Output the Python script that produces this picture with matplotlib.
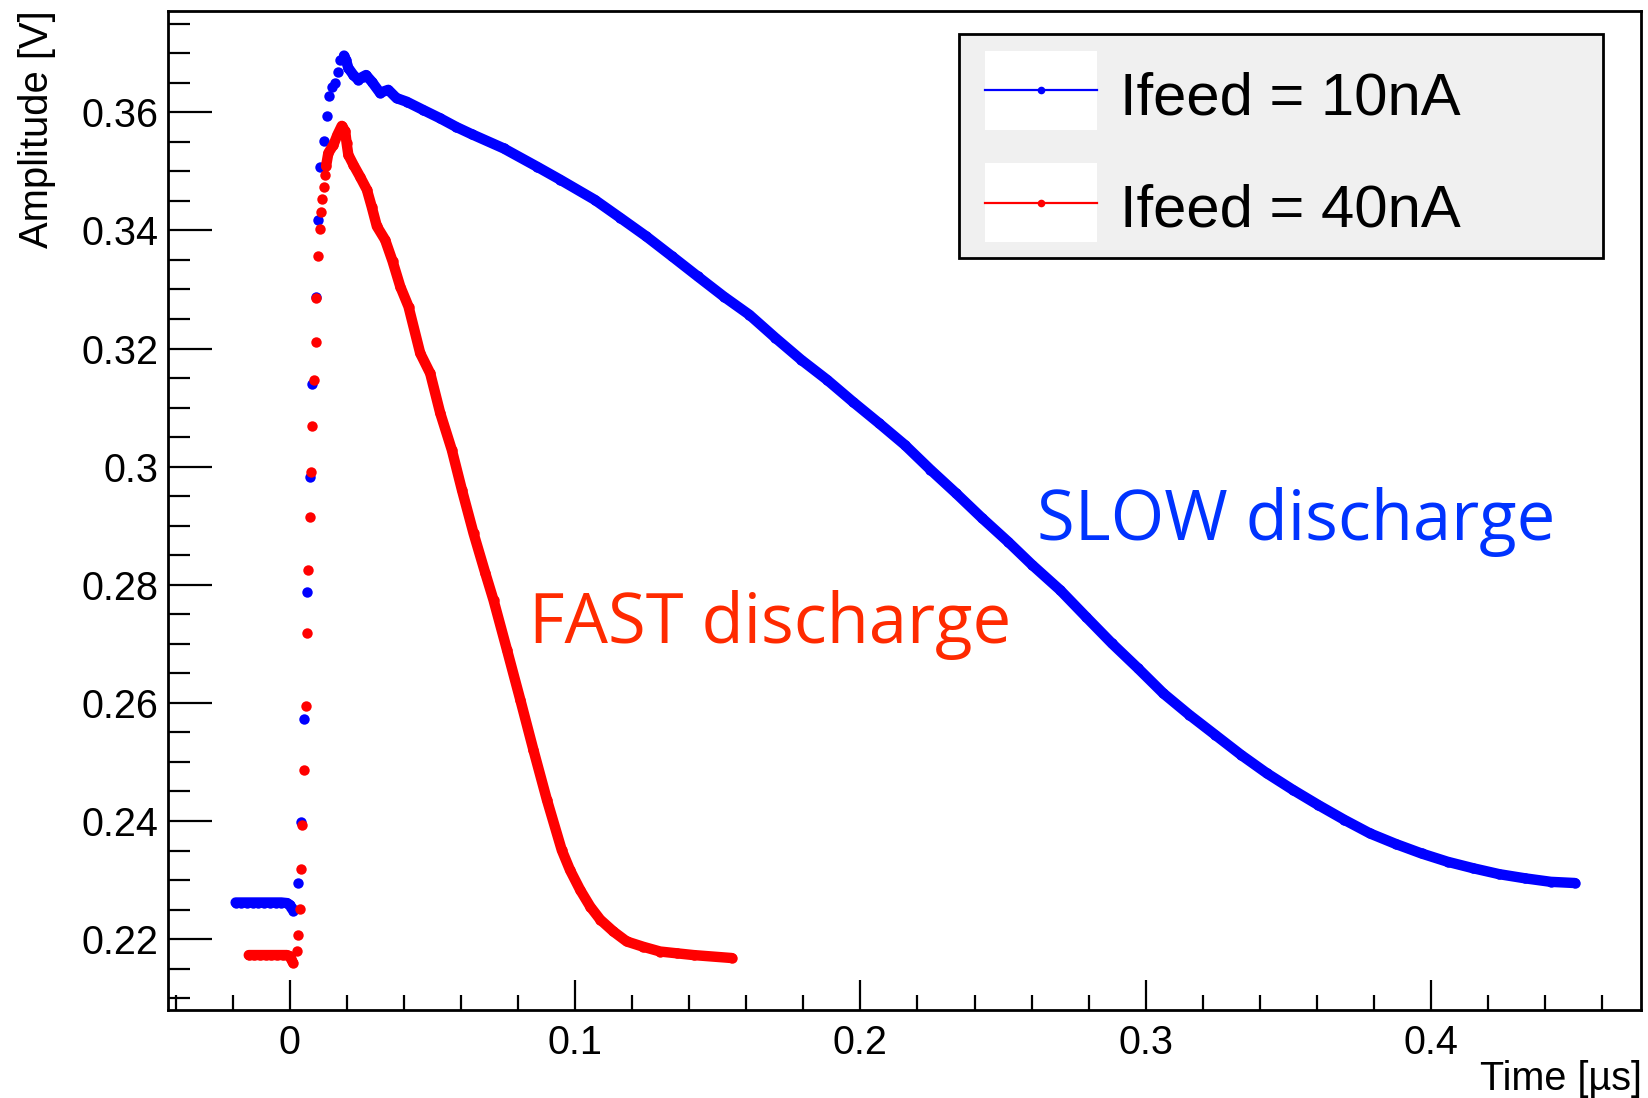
import matplotlib
matplotlib.use("Agg")
import matplotlib.pyplot as plt
from matplotlib.patches import Rectangle
from matplotlib.lines import Line2D
from matplotlib.ticker import MultipleLocator, FuncFormatter

# ---------------- data ----------------
# Ifeed = 10 nA (blue)
blue_base_t = [-0.0190, -0.0170, -0.0150, -0.0130, -0.0110, -0.0090, -0.0070,
               -0.0050, -0.0030, -0.0010, 0.0000, 0.0006]
blue_base_v = [0.2262, 0.2262, 0.2262, 0.2262, 0.2262, 0.2262, 0.2262,
               0.2262, 0.2262, 0.2261, 0.2258, 0.2252]
blue_rise_t = [0.0011, 0.0029, 0.0039, 0.0050, 0.0060, 0.0069, 0.0079, 0.0090,
               0.0099, 0.0106, 0.0120, 0.0130, 0.0139, 0.0147, 0.0159, 0.0168,
               0.0176]
blue_rise_v = [0.2247, 0.2295, 0.2399, 0.2573, 0.2787, 0.2982, 0.3140, 0.3287,
               0.3418, 0.3507, 0.3552, 0.3594, 0.3627, 0.3643, 0.3649, 0.3669,
               0.3688]
blue_tail_t = [0.0190, 0.0197, 0.0205, 0.0223, 0.0240, 0.0255, 0.0267, 0.0287,
               0.0316, 0.0345, 0.0374, 0.0409, 0.0467, 0.0526, 0.0584, 0.0637,
               0.0749, 0.0866, 0.0947, 0.1068, 0.1159, 0.1249, 0.1340, 0.1430,
               0.1521, 0.1611, 0.1702, 0.1792, 0.1883, 0.1973, 0.2064, 0.2155,
               0.2245, 0.2335, 0.2426, 0.2517, 0.2601, 0.2700, 0.2790,
               0.2881, 0.2972, 0.3062, 0.3152, 0.3243, 0.3334, 0.3424, 0.3515,
               0.3605, 0.3696, 0.3786, 0.3877, 0.3967, 0.4058, 0.4148, 0.4239,
               0.4329, 0.4420, 0.4504]
blue_tail_v = [0.3696, 0.3688, 0.3675, 0.3663, 0.3655, 0.3660, 0.3663, 0.3652,
               0.3633, 0.3638, 0.3624, 0.3618, 0.3604, 0.3590, 0.3575, 0.3563,
               0.3539, 0.3508, 0.3486, 0.3452, 0.3421, 0.3390, 0.3356, 0.3322,
               0.3288, 0.3257, 0.3218, 0.3181, 0.3147, 0.3110, 0.3074, 0.3037,
               0.2995, 0.2955, 0.2913, 0.2873, 0.2834, 0.2791, 0.2746,
               0.2701, 0.2659, 0.2616, 0.2580, 0.2546, 0.2512, 0.2481, 0.2453,
               0.2427, 0.2402, 0.2379, 0.2361, 0.2345, 0.2331, 0.2320, 0.2310,
               0.2303, 0.2297, 0.2295]

# Ifeed = 40 nA (red)
red_base_t = [-0.0144, -0.0125, -0.0105, -0.0085, -0.0065, -0.0045, -0.0025,
              -0.0010, 0.0000, 0.0005, 0.0011]
red_base_v = [0.2173, 0.2173, 0.2173, 0.2173, 0.2173, 0.2173, 0.2173,
              0.2173, 0.2171, 0.2166, 0.2160]
red_rise_t = [0.0025, 0.0029, 0.0034, 0.0040, 0.0044, 0.0050, 0.0055, 0.0060,
              0.0064, 0.0069, 0.0074, 0.0079, 0.0085, 0.0090, 0.0093, 0.0099,
              0.0104, 0.0109, 0.0114, 0.0118, 0.0124]
red_rise_v = [0.2180, 0.2207, 0.2251, 0.2318, 0.2393, 0.2487, 0.2594, 0.2719,
              0.2825, 0.2915, 0.2991, 0.3068, 0.3146, 0.3211, 0.3285, 0.3356,
              0.3403, 0.3432, 0.3453, 0.3474, 0.3494]
red_tail_t = [0.0127, 0.0135, 0.0153, 0.0167, 0.0182, 0.0194, 0.0199, 0.0205,
              0.0223, 0.0246, 0.0270, 0.0287, 0.0305, 0.0334, 0.0360, 0.0387,
              0.0416, 0.0457, 0.0492, 0.0527, 0.0568, 0.0603, 0.0644, 0.0685,
              0.0714, 0.0761, 0.0808, 0.0854, 0.0901, 0.0953, 0.0982, 0.1018,
              0.1053, 0.1088, 0.1134, 0.1181, 0.1239, 0.1298, 0.1356, 0.1415,
              0.1549]
red_tail_v = [0.3509, 0.3531, 0.3545, 0.3562, 0.3577, 0.3568, 0.3548, 0.3528,
              0.3511, 0.3491, 0.3469, 0.3440, 0.3407, 0.3384, 0.3348, 0.3305,
              0.3271, 0.3192, 0.3158, 0.3091, 0.3028, 0.2961, 0.2887, 0.2820,
              0.2774, 0.2690, 0.2605, 0.2520, 0.2436, 0.2351, 0.2317, 0.2283,
              0.2255, 0.2233, 0.2213, 0.2196, 0.2187, 0.2179, 0.2176, 0.2173,
              0.2168]

legend_labels = ["Ifeed = 10nA", "Ifeed = 40nA"]
x_label = "Time [\u00b5s]"
y_label = "Amplitude [V]"
note_slow = "SLOW discharge"
note_fast = "FAST discharge"

# ---------------- figure ----------------
W, H, DPI = 1649, 1098, 100
fig = plt.figure(figsize=(W / DPI, H / DPI), dpi=DPI, facecolor="white")

def fx(px):
    return px / W

def fy(py):
    return 1 - py / H

AX_L, AX_R, AX_T, AX_B = 168.3, 1641.0, 10.7, 1010.0
ax = fig.add_axes([fx(AX_L), fy(AX_B), (AX_R - AX_L) / W, (AX_B - AX_T) / H])
ax.set_xlim(-0.0426, 0.4736)
ax.set_ylim(0.2080, 0.3772)

BLUE, RED = "#0000ff", "#ff0000"
DOT = 7.5  # points

def draw_series(base_t, base_v, rise_t, rise_v, tail_t, tail_v, color, z):
    for t, v in ((base_t, base_v), (tail_t, tail_v)):
        ax.plot(t, v, "-", color=color, lw=DOT, solid_capstyle="round",
                solid_joinstyle="round", zorder=z)
        ax.plot(t, v, "o", color=color, ms=DOT, mew=0, zorder=z)
    ax.plot(rise_t, rise_v, "o", color=color, ms=DOT, mew=0, zorder=z)

draw_series(blue_base_t, blue_base_v, blue_rise_t, blue_rise_v,
            blue_tail_t, blue_tail_v, BLUE, 3)
draw_series(red_base_t, red_base_v, red_rise_t, red_rise_v,
            red_tail_t, red_tail_v, RED, 4)

# ---------------- axes styling (ROOT look) ----------------
for side in ("top", "right", "left", "bottom"):
    ax.spines[side].set_linewidth(2.0)
    ax.spines[side].set_color("black")

ax.xaxis.set_major_locator(MultipleLocator(0.1))
ax.xaxis.set_minor_locator(MultipleLocator(0.02))
ax.yaxis.set_major_locator(MultipleLocator(0.02))
ax.yaxis.set_minor_locator(MultipleLocator(0.005))
fmt = FuncFormatter(lambda v, _: "%g" % round(v, 6))
ax.xaxis.set_major_formatter(fmt)
ax.yaxis.set_major_formatter(fmt)

TICKFONT = "Liberation Sans"
ax.tick_params(axis="both", which="both", direction="in", top=False, right=False,
               width=1.6, color="black")
ax.tick_params(axis="y", which="major", length=31.7, pad=7.0, labelsize=28.5)
ax.tick_params(axis="y", which="minor", length=15.8)
ax.tick_params(axis="x", which="major", length=21.6, pad=10.0, labelsize=28.5)
ax.tick_params(axis="x", which="minor", length=10.8)
for lab in ax.get_xticklabels() + ax.get_yticklabels():
    lab.set_fontfamily(TICKFONT)

fig.text(fx(1642), fy(1089.7), x_label, ha="right", va="baseline",
         fontsize=28.5, family=TICKFONT)
fig.text(fx(37.5), fy(10.5), y_label, ha="center", va="top", rotation=90,
         fontsize=28.8, family=TICKFONT)

# ---------------- annotations ----------------
NOTEFONT = ["Open Sans", "DejaVu Sans"]
ax.text(0.2620, 0.2876, note_slow, color="#0033ff", fontsize=49.5,
        family=NOTEFONT, ha="left", va="baseline", zorder=6)
ax.text(0.0840, 0.2702, note_fast, color="#ff2a00", fontsize=49.5,
        family=NOTEFONT, ha="left", va="baseline", zorder=6)

# ---------------- legend (ROOT TLegend look) ----------------
def fig_rect(x0, y0, x1, y1, **kw):
    r = Rectangle((fx(x0), fy(y1)), (x1 - x0) / W, (y1 - y0) / H,
                  transform=fig.transFigure, **kw)
    fig.add_artist(r)

fig_rect(959.5, 34, 1602.5, 258, facecolor="#f0f0f0", edgecolor="black",
         linewidth=2.0, zorder=10)
rows = [(51, 130, 90, 114.3, BLUE), (163.3, 241.7, 202.7, 226.7, RED)]
for (ytop, ybot, yline, ybase, col), lab in zip(rows, legend_labels):
    fig_rect(984.7, ytop, 1097.4, ybot, facecolor="white", edgecolor="none",
             zorder=11)
    fig.add_artist(Line2D([fx(984.7), fx(1097.4)], [fy(yline), fy(yline)],
                          transform=fig.transFigure, color=col, lw=1.6,
                          zorder=12))
    fig.add_artist(Line2D([fx(1041)], [fy(yline)], transform=fig.transFigure,
                          color=col, marker="o", ms=5.5, mew=0, zorder=13))
    fig.text(fx(1120), fy(ybase), lab, ha="left", va="baseline", fontsize=43,
             family=TICKFONT, zorder=13)

fig.savefig("out.png", dpi=DPI, facecolor="white")
